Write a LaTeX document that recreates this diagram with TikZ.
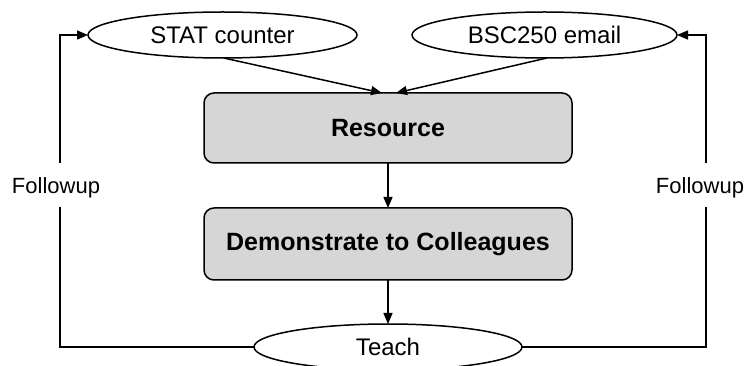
\documentclass[tikz,border=0pt]{standalone}
\usepackage{fontspec}
\setmainfont{Liberation Sans}
\usetikzlibrary{shapes.geometric,arrows.meta}
\begin{document}
\begin{tikzpicture}[x=1pt,y=-1pt,
  oval/.style={ellipse, draw, line width=1.5pt, fill=white, inner sep=0pt, outer sep=0pt, minimum height=46pt, font=\fontsize{24}{28}\selectfont},
  procbox/.style={rectangle, rounded corners=10pt, draw, line width=1.5pt, fill=gray!32, inner sep=0pt, outer sep=0pt, minimum width=368pt, font=\bfseries\fontsize{25}{30}\selectfont},
  arr/.style={-{Triangle[length=11pt,width=9pt]}, line width=1.5pt},
  conn/.style={line width=1.5pt},
  lbl/.style={font=\fontsize{22}{26}\selectfont, inner sep=0pt}
]
\useasboundingbox (0,0) rectangle (748,366);
\node[oval, minimum width=269pt] (stat) at (222.5,35) {STAT counter};
\node[oval, minimum width=265pt] (bsc) at (544.5,35) {BSC250 email};
\node[procbox, minimum height=70pt] (res) at (388,128) {Resource};
\node[procbox, minimum height=72pt] (demo) at (388,244) {Demonstrate to Colleagues};
\node[oval, minimum width=268pt] (teach) at (388,347) {Teach};
\node[lbl] (fl) at (56,188) {Followup};
\node[lbl] (fr) at (700,188) {Followup};
\coordinate (lt) at (60,35);
\coordinate (lgt) at (60,163);
\coordinate (lgb) at (60,207);
\coordinate (lb) at (60,347);
\coordinate (rt) at (706,35);
\coordinate (rgt) at (706,163);
\coordinate (rgb) at (706,207);
\coordinate (rb) at (706,347);
\coordinate (rin1) at (382,93);
\coordinate (rin2) at (396,93);
\draw[arr] (lgt) -- (lt) -- (stat.west);
\draw[conn] (lgb) -- (lb) -- (teach.west);
\draw[arr] (rgt) -- (rt) -- (bsc.east);
\draw[conn] (rgb) -- (rb) -- (teach.east);
\draw[arr] (stat.-87) -- (rin1);
\draw[arr] (bsc.-84) -- (rin2);
\draw[arr] (res.south) -- (demo.north);
\draw[arr] (demo.south) -- (teach.north);
\end{tikzpicture}
\end{document}
